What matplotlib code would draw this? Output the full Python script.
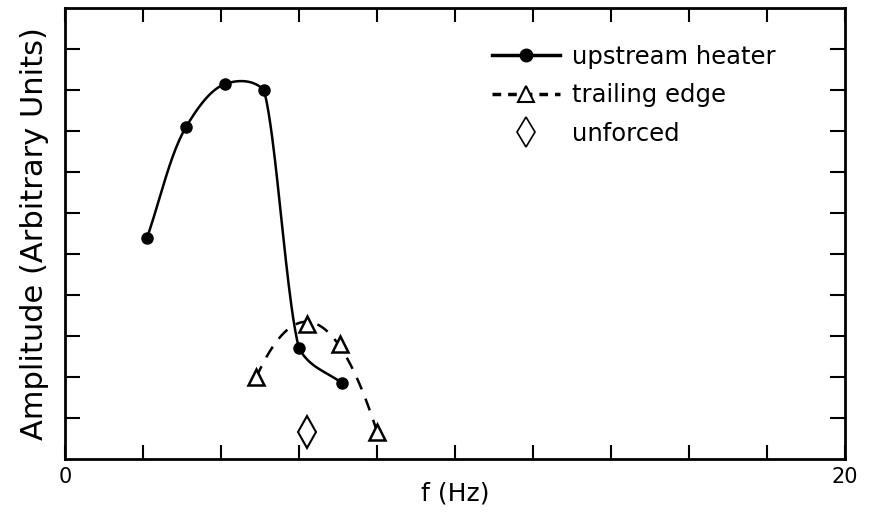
import numpy as np
import matplotlib
matplotlib.use('Agg')
import matplotlib.pyplot as plt

# values
heater_f = [2.1, 3.1, 4.1, 5.1, 6.0, 7.1]
heater_amp = [5.4, 8.1, 9.15, 9.0, 2.7, 1.85]

trailing_f = [4.9, 6.2, 7.05, 8.0]
trailing_amp = [2.0, 3.3, 2.8, 0.65]

unforced_f = [6.2]
unforced_amp = [0.65]


def smooth_curve(xs, ys, alphas, n=40):
    # catmull-rom, knot spacing chosen per segment (0 uniform, 0.5 centripetal)
    P = np.column_stack([xs, ys]).astype(float)
    P = np.vstack([2 * P[0] - P[1], P, 2 * P[-1] - P[-2]])
    pts = []
    for i in range(1, len(P) - 2):
        a = alphas[i - 1]
        p0, p1, p2, p3 = P[i - 1], P[i], P[i + 1], P[i + 2]
        t0 = 0.0
        t1 = t0 + np.linalg.norm(p1 - p0) ** a
        t2 = t1 + np.linalg.norm(p2 - p1) ** a
        t3 = t2 + np.linalg.norm(p3 - p2) ** a
        t = np.linspace(t1, t2, n)[:, None]
        a1 = (t1 - t) / (t1 - t0) * p0 + (t - t0) / (t1 - t0) * p1
        a2 = (t2 - t) / (t2 - t1) * p1 + (t - t1) / (t2 - t1) * p2
        a3 = (t3 - t) / (t3 - t2) * p2 + (t - t2) / (t3 - t2) * p3
        b1 = (t2 - t) / (t2 - t0) * a1 + (t - t0) / (t2 - t0) * a2
        b2 = (t3 - t) / (t3 - t1) * a2 + (t - t1) / (t3 - t1) * a3
        pts.append((t2 - t) / (t2 - t1) * b1 + (t - t1) / (t2 - t1) * b2)
    pts = np.vstack(pts)
    return pts[:, 0], pts[:, 1]


def main():
    fig = plt.figure(figsize=(8.69, 5.14), dpi=100)
    ax = fig.add_axes([0.075, 0.107, 0.897, 0.877])

    hx, hy = smooth_curve(heater_f, heater_amp, [0.5, 0.5, 0.5, 0.0, 0.5])
    ax.plot(hx, hy, color='black', lw=1.8)
    ax.plot(heater_f, heater_amp, 'o', color='black', ms=8)

    coef = np.polyfit(trailing_f, trailing_amp, 2)
    tx = np.linspace(trailing_f[0], trailing_f[-1], 200)
    ax.plot(tx, np.polyval(coef, tx), color='black', lw=1.8, ls=(0, (5, 4)))
    ax.plot(trailing_f, trailing_amp, '^', mfc='white', mec='black', mew=1.8, ms=12)

    ax.plot(unforced_f, unforced_amp, 'd', mfc='white', mec='black', mew=1.5, ms=16)

    # legend proxies
    ax.plot([], [], '-o', color='black', lw=2.5, ms=9, label='upstream heater')
    ax.plot([], [], '^', ls=(0, (2.5, 2)), color='black', mfc='white', mew=1.5,
            ms=11, lw=2.5, label='trailing edge')
    ax.plot([], [], 'd', mfc='white', mec='black', mew=1.2, ms=15, ls='none',
            label='unforced')
    handles, labels = ax.get_legend_handles_labels()
    ax.legend(handles[-3:], labels[-3:], loc='upper right', frameon=False,
              bbox_to_anchor=(0.94, 0.968), fontsize=17.5, handlelength=2.8,
              labelspacing=0.6, handletextpad=0.5)

    ax.set_xlim(0, 20)
    ax.set_ylim(0, 11)
    ax.set_xticks(np.arange(0, 21, 2))
    ax.set_xticklabels(['0'] + [''] * 9 + ['20'])
    ax.set_yticks(np.arange(1, 11))
    ax.set_yticklabels([])
    ax.tick_params(direction='in', length=10, width=1.5, top=True, right=True,
                   labelsize=15, pad=6)
    ax.tick_params(axis='y', which='major', length=11)
    for s in ax.spines.values():
        s.set_linewidth(2)
    ax.set_xlabel('f (Hz)', fontsize=18, labelpad=-4)
    ax.set_ylabel('Amplitude (Arbitrary Units)', fontsize=22, labelpad=6)

    fig.savefig('out.png', dpi=100)


if __name__ == '__main__':
    main()
